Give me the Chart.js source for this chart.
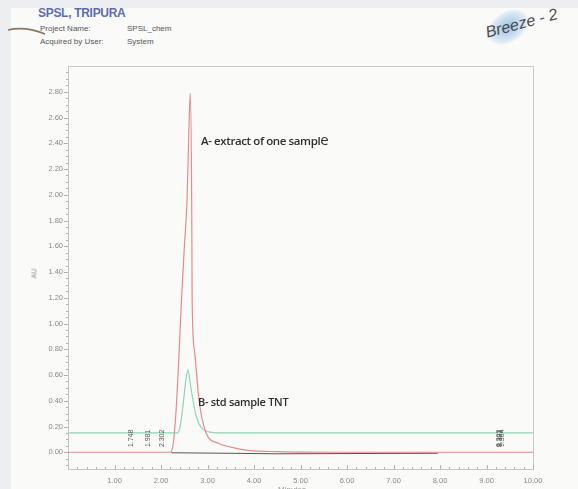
<!DOCTYPE html>
<html><head><meta charset="utf-8">
<script src="https://cdn.jsdelivr.net/npm/chart.js@4/dist/chart.umd.min.js"></script>
<style>
html,body{margin:0;padding:0;width:578px;height:489px;overflow:hidden;background:#eceef2;}
#paper{position:absolute;left:11px;top:8px;width:567px;height:481px;background:#fafaf9;}
canvas{position:absolute;left:0;top:0;}
.t{position:absolute;white-space:nowrap;font-family:"Liberation Sans",Arial,sans-serif;color:#555;}
.a{position:absolute;white-space:nowrap;font-family:"Open Sans",sans-serif;font-weight:600;color:#2e2e2e;}
</style></head>
<body>
<div id="paper"></div>
<svg style="position:absolute;left:0;top:0" width="80" height="60"><path d="M8 30 Q 25 26 45 34" stroke="#8a7660" stroke-width="1.6" fill="none"/></svg>
<div class="t" style="left:38px;top:6px;font-size:12px;color:#5b6cb3;font-weight:bold;letter-spacing:-0.3px;">SPSL, TRIPURA</div>
<div class="t" style="left:40px;top:24px;font-size:8px;">Project Name:</div>
<div class="t" style="left:127px;top:24px;font-size:8px;">SPSL_chem</div>
<div class="t" style="left:40px;top:37px;font-size:8px;">Acquired by User:</div>
<div class="t" style="left:127px;top:37px;font-size:8px;">System</div>
<div style="position:absolute;left:486px;top:12px;width:44px;height:30px;border-radius:50%;background:radial-gradient(ellipse at center,rgba(95,155,215,0.6),rgba(130,185,230,0.25) 60%,rgba(255,255,255,0) 75%);transform:rotate(-35deg);"></div>
<div class="t" style="left:486px;top:24px;font-size:16px;font-style:italic;color:#4a4a4a;transform:rotate(-15deg);transform-origin:left center;letter-spacing:0px;">Breeze - 2</div>
<canvas id="c" width="578" height="489"></canvas>
<div class="a" style="left:201px;top:129px;font-size:11.5px;letter-spacing:-0.4px;">A- extract of one sampl<span style="font-size:15px;font-weight:400;">e</span></div>
<div class="a" style="left:198px;top:394px;font-size:11px;letter-spacing:-0.3px;">B- std sample TNT</div>
<div class="t" style="left:29px;top:270px;font-size:7px;color:#888;transform:rotate(-90deg);">AU</div>
<div class="t" style="left:278px;top:485px;font-size:8px;color:#999;">Minutes</div>
<script>
// ---- data ----
const redTime = [0, 1.2, 2.0, 2.2, 2.26, 2.32, 2.38, 2.44, 2.50, 2.56, 2.60, 2.63, 2.66, 2.67, 2.72, 2.82, 2.97, 3.23, 3.50, 3.87, 4.5, 6.0, 8.0, 10.0];
const redAU   = [0, 0, 0, 0, 0.06, 0.3, 0.7, 1.18, 1.58, 1.96, 2.5, 2.79, 1.96, 1.18, 0.79, 0.4, 0.15, 0.07, 0.04, 0.015, 0.005, 0, 0, 0];
const greenTime = [0, 1.0, 2.0, 2.35, 2.41, 2.47, 2.53, 2.58, 2.63, 2.69, 2.75, 2.82, 2.90, 3.0, 3.3, 5, 7, 9, 10];
const greenAU   = [0.15, 0.15, 0.15, 0.15, 0.2, 0.35, 0.55, 0.64, 0.53, 0.4, 0.29, 0.22, 0.18, 0.16, 0.15, 0.15, 0.15, 0.15, 0.15];
const baseTime = [2.22, 3.5, 4.5, 6.0, 7.95];
const baseAU   = [-0.004, -0.008, -0.012, -0.01, -0.008];
const xTicks = [1, 2, 3, 4, 5, 6, 7, 8, 9, 10];
const yTicks = [0, 0.2, 0.4, 0.6, 0.8, 1.0, 1.2, 1.4, 1.6, 1.8, 2.0, 2.2, 2.4, 2.6, 2.8];
const rtLabels = ['1.748', '1.981', '2.302', '9.303', '9.331', '9.364'];
const rtTimes  = [1.36, 1.73, 2.03, 9.27, 9.30, 9.33];

const pts = (xs, ys) => xs.map((x, i) => ({x: x, y: ys[i]}));

const decor = {
  id: 'decor',
  afterDraw(chart) {
    const ctx = chart.ctx, xs = chart.scales.x, ys = chart.scales.y;
    const a = chart.chartArea;
    ctx.save();
    ctx.strokeStyle = '#c9c9c9'; ctx.lineWidth = 1;
    ctx.beginPath();
    ctx.moveTo(a.left, a.top + 0.5); ctx.lineTo(a.right, a.top + 0.5);
    ctx.moveTo(a.right + 0.5, a.top); ctx.lineTo(a.right + 0.5, a.bottom);
    ctx.stroke();
    ctx.strokeStyle = '#b0b0b0';
    ctx.beginPath();
    for (let v = -0.10; v <= 2.96; v += 0.05) {
      const y = Math.round(ys.getPixelForValue(v)) + 0.5;
      const major = yTicks.some(t => Math.abs(t - v) < 1e-6);
      ctx.moveTo(a.left - (major ? 4 : 2), y); ctx.lineTo(a.left, y);
    }
    for (let v = 0.2; v < 10; v += 0.2) {
      const x = Math.round(xs.getPixelForValue(v)) + 0.5;
      const major = Math.abs(v - Math.round(v)) < 1e-6;
      ctx.moveTo(x, a.bottom); ctx.lineTo(x, a.bottom - (major ? 4 : 2));
    }
    ctx.stroke();
    ctx.fillStyle = '#555';
    ctx.font = '7px "Liberation Sans", Arial, sans-serif';
    ctx.textAlign = 'left'; ctx.textBaseline = 'middle';
    rtLabels.forEach((lab, i) => {
      const x = xs.getPixelForValue(rtTimes[i]);
      const y = ys.getPixelForValue(0.04);
      ctx.save(); ctx.translate(x, y); ctx.rotate(-Math.PI / 2);
      ctx.fillText(lab, 0, 0);
      ctx.restore();
    });
    ctx.restore();
  }
};

new Chart(document.getElementById('c'), {
  type: 'line',
  data: {
    datasets: [
      {label: 'A', data: pts(redTime, redAU), borderColor: '#e58c88', borderWidth: 1.2, pointRadius: 0, cubicInterpolationMode: 'monotone'},
      {label: 'B', data: pts(greenTime, greenAU), borderColor: '#8fd6b2', borderWidth: 1.2, pointRadius: 0, cubicInterpolationMode: 'monotone'},
      {label: 'baseline', data: pts(baseTime, baseAU), borderColor: '#555', borderWidth: 1, pointRadius: 0}
    ]
  },
  options: {
    responsive: false, animation: false,
    layout: {padding: {top: 66, right: 45, left: 0, bottom: 0}},
    plugins: {legend: {display: false}, tooltip: {enabled: false}},
    scales: {
      x: {
        type: 'linear', min: 0, max: 10,
        afterFit(s) { s.height = 20; },
        afterBuildTicks(s) { s.ticks = xTicks.map(v => ({value: v})); },
        grid: {display: false, drawTicks: false},
        border: {display: true, color: '#c4c4c4'},
        ticks: {padding: 7, color: '#888', font: {size: 7.5, family: 'Liberation Sans'}, maxRotation: 0, callback: v => v.toFixed(2)}
      },
      y: {
        type: 'linear', min: -0.13, max: 3.0,
        afterFit(s) { s.width = 68; },
        afterBuildTicks(s) { s.ticks = yTicks.map(v => ({value: v})); },
        grid: {display: false, drawTicks: false},
        border: {display: true, color: '#c4c4c4'},
        ticks: {padding: 5, color: '#888', font: {size: 7.5, family: 'Liberation Sans'}, callback: v => v.toFixed(2)}
      }
    }
  },
  plugins: [decor]
});
</script>
</body></html>
